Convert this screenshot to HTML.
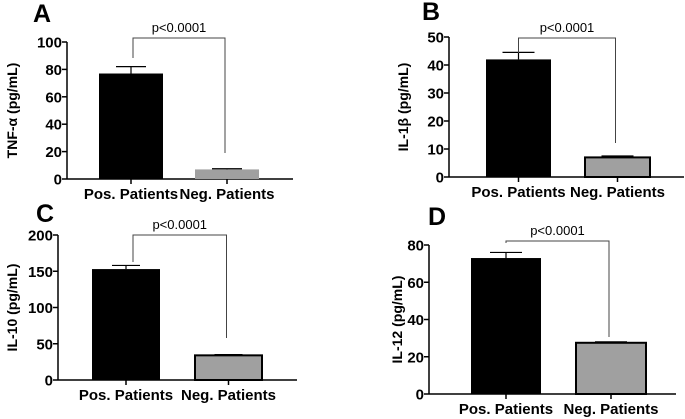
<!DOCTYPE html>
<html><head><meta charset="utf-8"><style>
body{margin:0;background:#fff;}
svg{display:block;font-family:"Liberation Sans",sans-serif;}
</style></head><body>
<svg id="c" width="685" height="419" viewBox="0 0 685 419" xmlns="http://www.w3.org/2000/svg"></svg>
<script>
const categories = ["Pos. Patients", "Neg. Patients"];
const panelLetters = ["A", "B", "C", "D"];
const yTitles = ["TNF-\u03B1 (pg/mL)", "IL-1\u03B2 (pg/mL)", "IL-10 (pg/mL)", "IL-12 (pg/mL)"];
const meansA = [77, 7];
const errA = [82, 7.5];
const meansB = [42, 7];
const errB = [44.5, 7.5];
const meansC = [153, 34];
const errC = [158, 35];
const meansD = [73, 27.5];
const errD = [76, 28];
const ticksA = [0, 20, 40, 60, 80, 100];
const ticksB = [0, 10, 20, 30, 40, 50];
const ticksC = [0, 50, 100, 150, 200];
const ticksD = [0, 20, 40, 60, 80];
const pText = "p<0.0001";

const layouts = [
 {ax:67,ay0:179,ay1:42,xend:293,bars:[[99,163],[195,259]],cap:15,legR:153,legL:58,brY:38,letter:[33,22],title:12,border:false},
 {ax:449,ay0:177,ay1:37,xend:684,bars:[[486,551],[585,650]],cap:16,legR:143,legL:53,brY:38,letter:[422,20],title:403,border:true},
 {ax:58,ay0:380,ay1:235,xend:297,bars:[[92,160],[195,262]],cap:14,legR:338,legL:262,brY:235,letter:[36,222],title:12,border:true},
 {ax:429,ay0:394,ay1:245,xend:676,bars:[[471,541],[576,646]],cap:16,legR:337,legL:243,brY:241,letter:[428,225],title:397,border:true}
];
const means=[meansA,meansB,meansC,meansD], errs=[errA,errB,errC,errD], ticks=[ticksA,ticksB,ticksC,ticksD];
const svg=document.getElementById('c');
const NS="http://www.w3.org/2000/svg";
function mk(tag,attrs,parent){const e=document.createElementNS(NS,tag);for(const k in attrs)e.setAttribute(k,attrs[k]);(parent||svg).appendChild(e);return e;}
layouts.forEach((L,i)=>{
 const g=mk('g',{});
 
 
 const tk=ticks[i], ymax=tk[tk.length-1];
 const y=v=>L.ay0-(v/ymax)*(L.ay0-L.ay1);
 const lt=mk('text',{x:L.letter[0],y:L.letter[1],'font-size':25,'font-weight':'bold'},g);lt.textContent=panelLetters[i];
 
 
 const cy=(L.ay0+L.ay1)/2;
 const yt=mk('text',{x:L.title,y:cy+5,'font-size':14,'font-weight':'bold','text-anchor':'middle',transform:`rotate(-90 ${L.title} ${cy})`},g);yt.textContent=yTitles[i];
 
 
 mk('line',{x1:L.ax,y1:L.ay1,x2:L.ax,y2:L.ay0,stroke:'#000','stroke-width':1.5},g);
 mk('line',{x1:L.ax,y1:L.ay0,x2:L.xend,y2:L.ay0,stroke:'#000','stroke-width':1.5},g);
 tk.forEach(v=>{
  mk('line',{x1:L.ax-5,y1:y(v),x2:L.ax,y2:y(v),stroke:'#000','stroke-width':1.5},g);
  const t=mk('text',{x:L.ax-5,y:y(v)+5.5,'font-size':15,'font-weight':'bold','text-anchor':'end'},g);t.textContent=v;
  
  
 });
 categories.forEach((c,j)=>{
  const [x0,x1]=L.bars[j], cx=(x0+x1)/2, m=means[i][j], e=errs[i][j];
  const b=mk('rect',{x:x0,y:y(m),width:x1-x0,height:L.ay0-y(m),fill:j==0?'#000':'#a0a0a0',stroke:(j==1&&L.border)?'#000':'none','stroke-width':2},g);
  
  
  mk('line',{x1:cx,y1:y(m),x2:cx,y2:y(e),stroke:'#000','stroke-width':1.2},g);
  mk('line',{x1:cx-L.cap,y1:y(e),x2:cx+L.cap,y2:y(e),stroke:'#000','stroke-width':1.2},g);
  mk('line',{x1:cx,y1:L.ay0,x2:cx,y2:L.ay0+5,stroke:'#000','stroke-width':1.5},g);
  const ct=mk('text',{x:cx,y:L.ay0+20,'font-size':15,'font-weight':'bold','text-anchor':'middle'},g);ct.textContent=c;
  
  
 });
 const lx=(L.bars[0][0]+L.bars[0][1])/2+(i==0?2:i==2?7:0), rx=(L.bars[1][0]+L.bars[1][1])/2-2;
 mk('polyline',{points:`${lx},${L.legL} ${lx},${L.brY} ${rx},${L.brY} ${rx},${L.legR}`,fill:'none',stroke:'#444','stroke-width':1},g);
 const pt=mk('text',{x:(lx+rx)/2,y:L.brY-6,'font-size':13,'text-anchor':'middle'},g);pt.textContent=pText;
 
 
});
</script>
</body></html>
